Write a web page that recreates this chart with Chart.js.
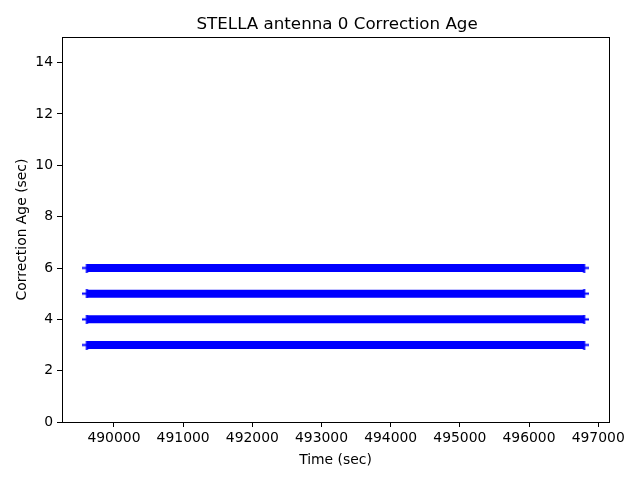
<!DOCTYPE html>
<html>
<head>
<meta charset="utf-8">
<script src="https://cdn.jsdelivr.net/npm/chart.js@4/dist/chart.umd.min.js"></script>
<style>
html,body{margin:0;padding:0;background:#fff;}
#wrap{width:640px;height:480px;}
</style>
</head>
<body>
<div id="wrap"><canvas id="c" width="640" height="480"></canvas></div>
<script>
// Data
const correctionLevels = [3, 4, 5, 6];          // correction age values (sec)
const timeStart = [489608, 489608, 489608, 489608]; // first time stamp of each level (sec)
const timeEnd   = [496797, 496797, 496797, 496797]; // last time stamp of each level (sec)
const xTicks = [490000, 491000, 492000, 493000, 494000, 495000, 496000, 497000];
const yTicks = [0, 2, 4, 6, 8, 10, 12, 14];
const xRange = [489249, 497156];
const yRange = [0, 15];

const FONT = "'DejaVu Sans', sans-serif";

// '+' marker glyph (horizontal arm visible beyond the dense band)
const plus = document.createElement('canvas');
plus.width = 9; plus.height = 9;
(function () {
  const g = plus.getContext('2d');
  g.fillStyle = '#0000ff';
  g.fillRect(0, 3.5, 9, 2);
  g.fillRect(3.5, 0, 2, 9);
})();

const datasets = correctionLevels.map((lvl, i) => ({
  label: 'Age ' + lvl,
  data: [{x: timeStart[i], y: lvl}, {x: timeEnd[i], y: lvl}],
  showLine: true,
  borderColor: '#0000ff',
  backgroundColor: '#0000ff',
  borderWidth: 8,
  borderCapStyle: 'butt',
  pointStyle: plus,
  pointRadius: 4.5,
  pointHoverRadius: 4.5
}));

const framePlugin = {
  id: 'frame',
  afterDraw(chart) {
    const ctx = chart.ctx, a = chart.chartArea;
    ctx.save();
    ctx.strokeStyle = '#000';
    ctx.lineWidth = 1;
    ctx.strokeRect(Math.round(a.left) + 0.5, Math.round(a.top) + 0.5,
                   Math.round(a.right - a.left), Math.round(a.bottom - a.top));
    ctx.fillStyle = '#000';
    ctx.textAlign = 'left';
    ctx.textBaseline = 'alphabetic';
    ctx.font = '16.7px ' + FONT;
    ctx.fillText('STELLA antenna 0 Correction Age', 196.5, 28.7);
    ctx.font = '13.9px ' + FONT;
    ctx.textAlign = 'center';
    ctx.fillText('Time (sec)', (a.left + a.right) / 2, 463.5);
    ctx.translate(25.5, (a.top + a.bottom) / 2);
    ctx.rotate(-Math.PI / 2);
    ctx.fillText('Correction Age (sec)', 0, 0);
    ctx.restore();
  }
};

new Chart(document.getElementById('c'), {
  type: 'scatter',
  data: { datasets },
  options: {
    responsive: false,
    animation: false,
    events: [],
    layout: { padding: { left: 0, right: 31, top: 37, bottom: 0 } },
    plugins: { legend: { display: false }, tooltip: { enabled: false }, title: { display: false } },
    scales: {
      x: {
        type: 'linear',
        min: xRange[0], max: xRange[1],
        afterBuildTicks(s) { s.ticks = xTicks.map(v => ({ value: v })); },
        afterFit(s) { s.height = 58; },
        grid: { drawOnChartArea: false, drawTicks: true, tickLength: 5, color: '#000', tickWidth: 1 },
        border: { display: true, color: '#000', width: 1 },
        ticks: { color: '#000', font: { family: FONT, size: 13.9 }, padding: 3, maxRotation: 0, autoSkip: false,
                 callback: v => String(v) }
      },
      y: {
        type: 'linear',
        min: yRange[0], max: yRange[1],
        afterBuildTicks(s) { s.ticks = yTicks.map(v => ({ value: v })); },
        afterFit(s) { s.width = 62; },
        grid: { drawOnChartArea: false, drawTicks: true, tickLength: 5, color: '#000', tickWidth: 1 },
        border: { display: true, color: '#000', width: 1 },
        ticks: { color: '#000', font: { family: FONT, size: 13.9 }, padding: 4, autoSkip: false,
                 callback: v => String(v) }
      }
    }
  },
  plugins: [framePlugin]
});
</script>
</body>
</html>
